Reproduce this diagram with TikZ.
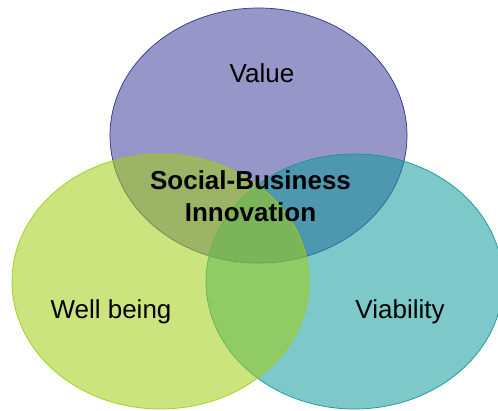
\documentclass[tikz,border=0pt]{standalone}
\usepackage{fontspec}
\setmainfont{Liberation Sans}
\usetikzlibrary{shapes.geometric}
\definecolor{topfill}{RGB}{64,64,155}
\definecolor{topline}{RGB}{50,50,150}
\definecolor{leftfill}{RGB}{162,206,20}
\definecolor{leftline}{RGB}{160,205,20}
\definecolor{rightfill}{RGB}{20,155,155}
\definecolor{rightline}{RGB}{20,150,150}
\tikzset{
  venn/.style={ellipse, minimum width=297pt, minimum height=255pt, inner sep=0pt, fill opacity=0.55, line width=0.7pt},
  lbl/.style={anchor=base, inner sep=0pt, font=\fontsize{26}{32}\selectfont},
  title/.style={align=center, inner sep=0pt, font=\fontsize{26}{32}\selectfont\bfseries}
}
\begin{document}
\begin{tikzpicture}[x=1pt,y=-1pt]
\useasboundingbox (0,0) rectangle (498,410);
\fill[white] (0,0) rectangle (498,410);
\node[venn, fill=topfill, draw=topline] (top) at (258.5,135.5) {};
\node[venn, fill=rightfill, draw=rightline] (right) at (354.5,281.5) {};
\node[venn, fill=leftfill, draw=leftline] (left) at (160.5,281.5) {};
\node[lbl] (value) at (262,82) {Value};
\node[lbl] (well) at (111,318) {Well being};
\node[lbl] (viab) at (400,318) {Viability};
\node[title] (sbi) at (250.5,196) {Social-Business\\Innovation};
\end{tikzpicture}
\end{document}
